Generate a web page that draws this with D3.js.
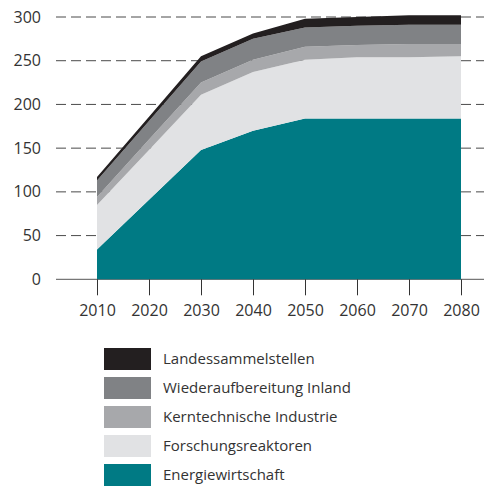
<!DOCTYPE html>
<html>
<head>
<meta charset="utf-8">
<script src="https://cdn.jsdelivr.net/npm/d3@7"></script>
<style>
  body { margin: 0; background: #fff; }
  text { font-family: "Open Sans", sans-serif; fill: #333; }
</style>
</head>
<body>
<div id="chart"></div>
<script>
// data
var years = [2010, 2020, 2030, 2040, 2050, 2060, 2070, 2080];
var energiewirtschaft = [34, 91, 148, 170, 184, 184, 184, 184];
var forschungsreaktoren = [51, 57, 63, 67, 67, 70, 70, 71];
var kerntechnik = [9, 12, 14, 14, 15, 14, 15, 14];
var wiederaufbereitung = [19, 21, 24, 24, 22, 22, 22, 22];
var landessammelstellen = [4, 5, 6, 6, 10, 10, 11, 11];
var yTicks = [0, 50, 100, 150, 200, 250, 300];

var seriesNames = ["Energiewirtschaft", "Forschungsreaktoren", "Kerntechnische Industrie",
  "Wiederaufbereitung Inland", "Landessammelstellen"];
var seriesValues = [energiewirtschaft, forschungsreaktoren, kerntechnik, wiederaufbereitung, landessammelstellen];
var colors = ["#007a84", "#e1e2e4", "#a7a8ab", "#808285", "#231f20"];

var svgWidth = 484;
var svgHeight = 486;

var svg = d3.select("#chart")
  .append("svg")
  .attr("width", svgWidth)
  .attr("height", svgHeight);

var xScale = d3.scaleLinear().domain([2010, 2080]).range([97, 461]);
var yScale = d3.scaleLinear().domain([0, 300]).range([279.3, 17]);

// build rows for the stack
var rows = years.map(function(y, i) {
  var row = { year: y };
  seriesNames.forEach(function(name, j) { row[name] = seriesValues[j][i]; });
  return row;
});

var stack = d3.stack().keys(seriesNames);
var layers = stack(rows);

// grid lines
svg.append("g")
  .selectAll("line")
  .data(yTicks.filter(d => d > 0))
  .enter()
  .append("line")
  .attr("x1", 56)
  .attr("x2", 484)
  .attr("y1", d => yScale(d))
  .attr("y2", d => yScale(d))
  .attr("stroke", "#4a4a4a")
  .attr("stroke-width", 1)
  .attr("stroke-dasharray", "10,5");

// baseline
svg.append("line")
  .attr("x1", 56)
  .attr("x2", 484)
  .attr("y1", yScale(0))
  .attr("y2", yScale(0))
  .attr("stroke", "#555")
  .attr("stroke-width", 1);

// y labels
svg.append("g")
  .selectAll("text")
  .data(yTicks)
  .enter()
  .append("text")
  .attr("x", 41)
  .attr("y", d => yScale(d))
  .attr("dy", "0.35em")
  .attr("text-anchor", "end")
  .attr("font-size", "16px")
  .text(d => d);

// areas
var area = d3.area()
  .x(d => xScale(d.data.year))
  .y0(d => yScale(d[0]))
  .y1(d => yScale(d[1]));

svg.append("g")
  .selectAll("path")
  .data(layers)
  .enter()
  .append("path")
  .attr("d", area)
  .attr("fill", (d, i) => colors[i]);

// x axis
var xAxis = d3.axisBottom(xScale)
  .tickValues(years)
  .tickFormat(d3.format("d"))
  .tickSize(16)
  .tickPadding(9);

var xg = svg.append("g")
  .attr("transform", `translate(0, ${yScale(0)})`)
  .call(xAxis);
xg.select(".domain").remove();
xg.selectAll(".tick line").attr("stroke", "#333");
xg.selectAll(".tick text")
  .attr("font-size", "16px")
  .attr("font-family", "Open Sans, sans-serif")
  .attr("fill", "#333");

// legend, top entry is the top layer
var legend = svg.append("g")
  .selectAll("g")
  .data(seriesNames.slice().reverse())
  .enter()
  .append("g")
  .attr("transform", (d, i) => `translate(104, ${348 + i * 29})`);

legend.append("rect")
  .attr("width", 47)
  .attr("height", 22)
  .attr("fill", (d, i) => colors[colors.length - 1 - i]);

legend.append("text")
  .attr("x", 59)
  .attr("y", 11)
  .attr("dy", "0.35em")
  .attr("font-size", "15px")
  .text(d => d);
</script>
</body>
</html>
